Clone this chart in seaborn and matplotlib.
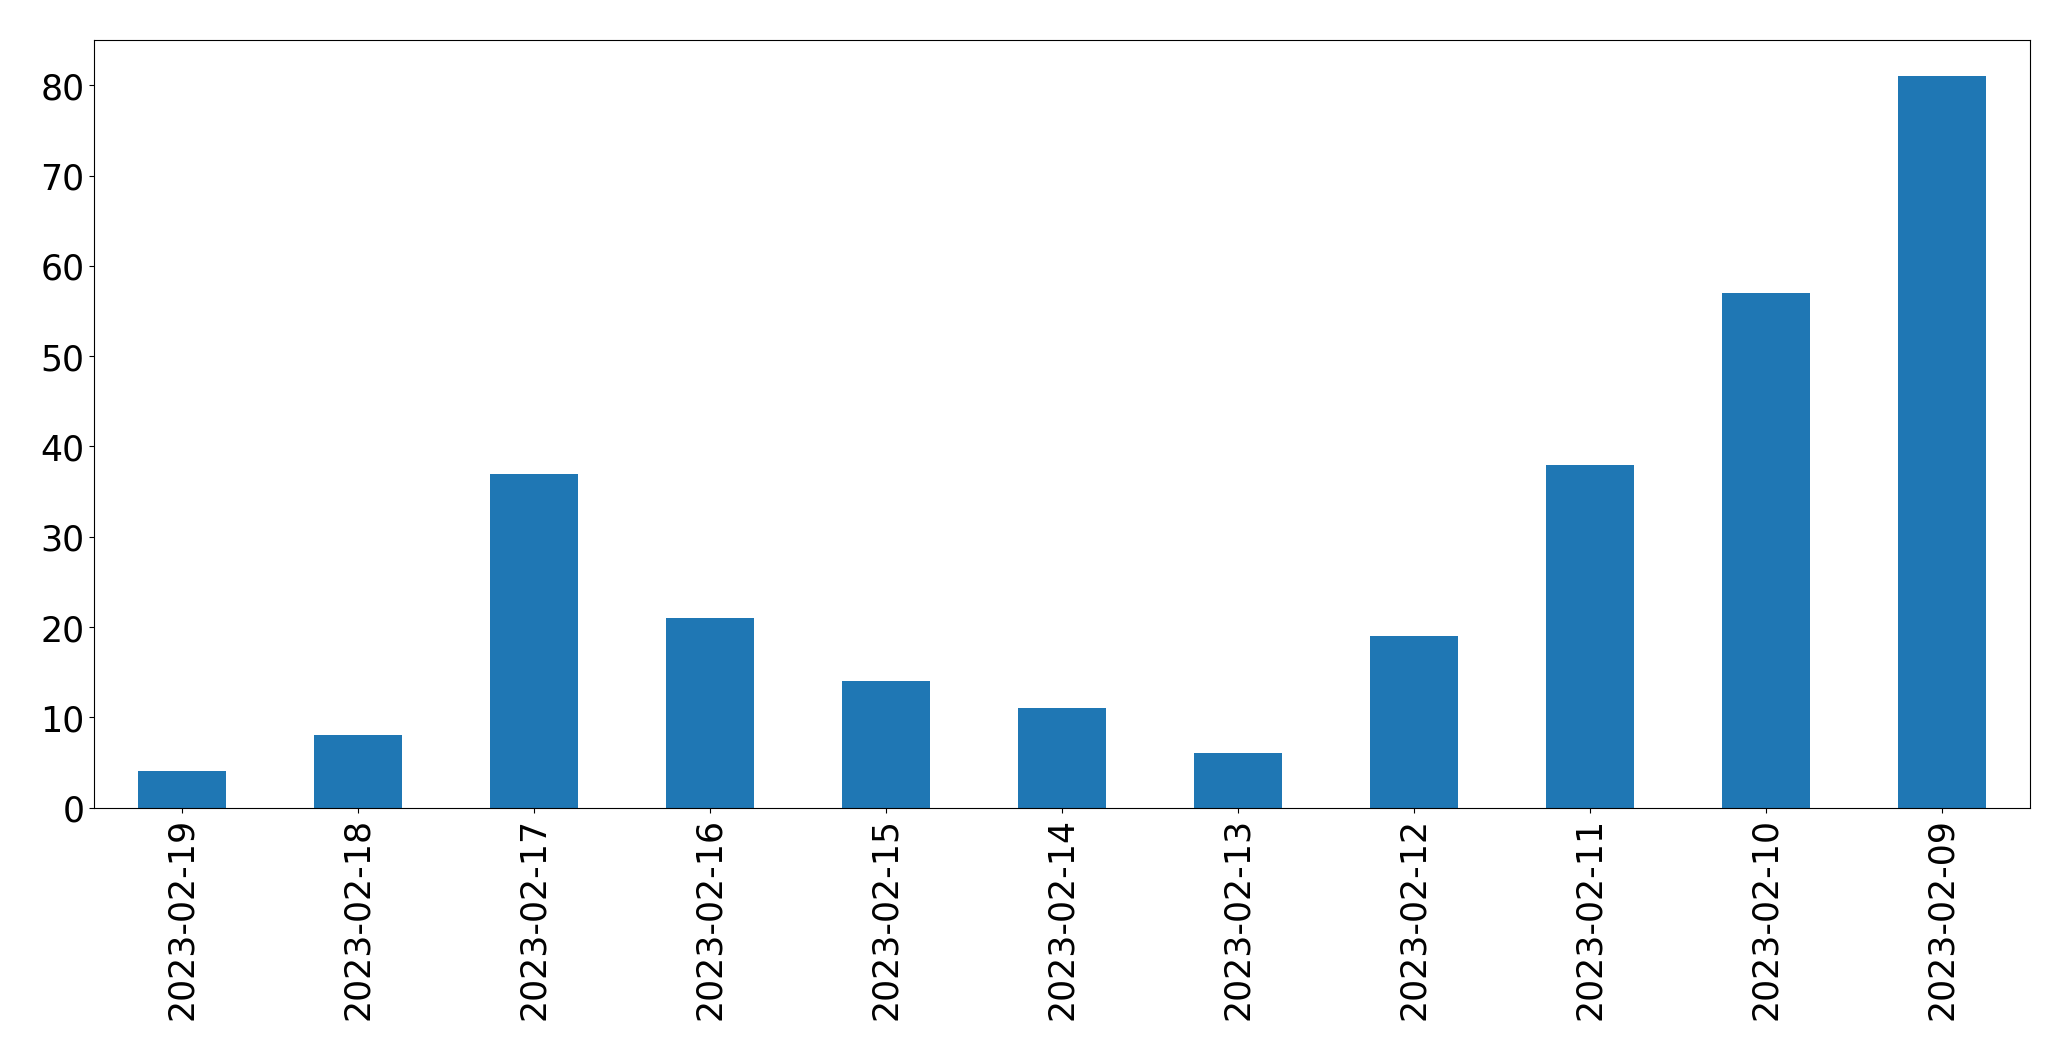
import pandas as pd
import seaborn as sns
import matplotlib
matplotlib.use("Agg")
import matplotlib.pyplot as plt

# daily counts, newest first (as in the original)
dates = ["2023-02-19", "2023-02-18", "2023-02-17", "2023-02-16", "2023-02-15",
         "2023-02-14", "2023-02-13", "2023-02-12", "2023-02-11", "2023-02-10",
         "2023-02-09"]
counts = [4, 8, 37, 21, 14, 11, 6, 19, 38, 57, 81]

df = pd.DataFrame({"date": dates, "count": counts})

fig, ax = plt.subplots(figsize=(20.71, 10.605), dpi=100)
sns.barplot(x="date", y="count", data=df, color="#1f77b4", saturation=1,
            width=0.5, ax=ax)

ax.set_xlim(-0.5, len(dates) - 0.5)
ax.set_ylim(0, max(counts) * 1.05)
ax.set_xlabel("")
ax.set_ylabel("")
ax.tick_params(axis="both", labelsize=25)
ax.tick_params(axis="x", labelrotation=90)

plt.subplots_adjust(left=0.0454, right=0.980, top=0.962, bottom=0.238)
plt.savefig("out.png", dpi=100)
